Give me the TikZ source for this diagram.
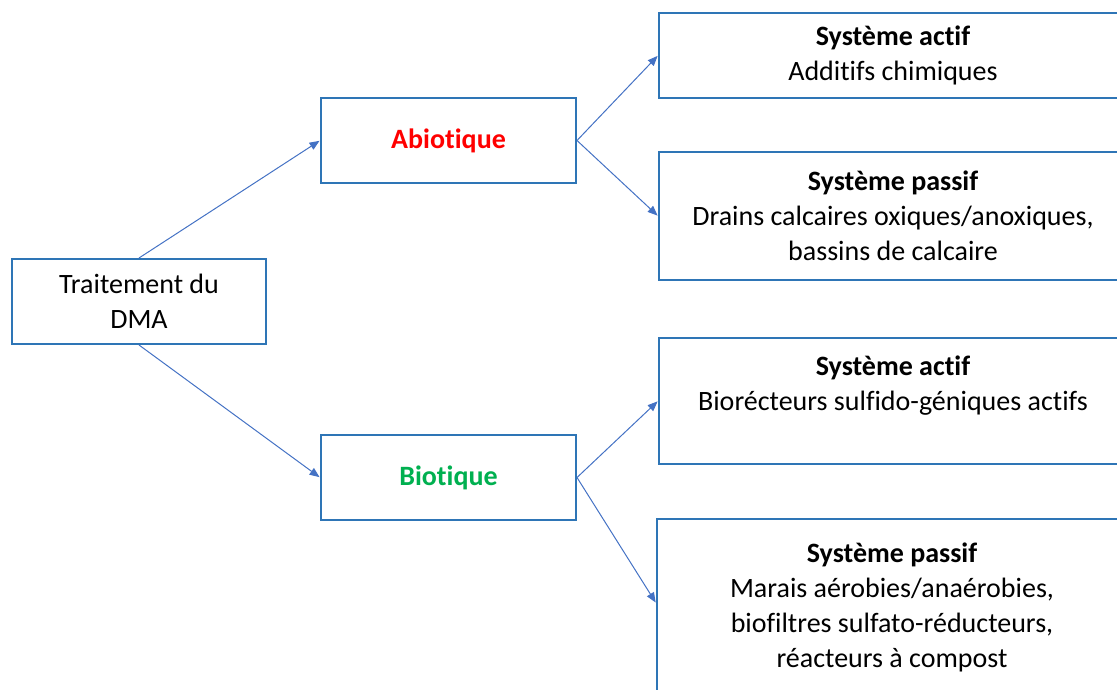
\documentclass[tikz,border=0pt]{standalone}
\usepackage{fontspec}
\setmainfont{Carlito}[Ligatures=NoCommon]
\usetikzlibrary{arrows.meta}
\definecolor{boxblue}{HTML}{2E75B6}
\definecolor{arrblue}{HTML}{4472C4}
\definecolor{abred}{HTML}{FF0000}
\definecolor{biogreen}{HTML}{00B050}
\tikzset{
  box/.style={draw=boxblue, line width=1.5pt, fill=white, rectangle, inner sep=0pt, align=center,
    font=\fontsize{21}{26.25}\selectfont, text=black},
  conn/.style={draw=arrblue, line width=0.75pt, -{Triangle[length=7.5pt,width=6pt]}, shorten >=0.4pt}
}
\begin{document}
\begin{tikzpicture}[x=0.75pt,y=-0.75pt]
\useasboundingbox (0,0) rectangle (1117,689);
\clip (0,0) rectangle (1117,689);
\node[box, minimum width=190.5pt, minimum height=63.75pt] (root) at (139,301.5) {Traitement du\\DMA};
\node[box, minimum width=191.25pt, minimum height=63.75pt, text=abred, font=\fontsize{21}{26.25}\selectfont\bfseries] (abio) at (448.5,140.5) {Abiotique};
\node[box, minimum width=191.25pt, minimum height=63.75pt, text=biogreen, font=\fontsize{21}{26.25}\selectfont\bfseries] (bio) at (448.5,477.5) {Biotique};
\node[box, minimum width=351pt, minimum height=63.75pt] (a1) at (893,55.5) {\textbf{Système actif}\\Additifs chimiques};
\node[box, minimum width=351pt, minimum height=96pt] (a2) at (893,216) {\textbf{Système passif}\\Drains calcaires oxiques/anoxiques,\\bassins de calcaire};
\node[box, minimum width=351pt, minimum height=94.5pt] (b1) at (893,401) {\textbf{Système actif}\\Biorécteurs sulfido-géniques actifs\\\mbox{}};
\node[box, minimum width=352.5pt, minimum height=132pt] (b2) at (892,607) {\textbf{Système passif}\\Marais aérobies/anaérobies,\\biofiltres sulfato-réducteurs,\\réacteurs à compost};
\draw[conn] (root.north) -- (abio.west);
\draw[conn] (root.south) -- (bio.west);
\draw[conn] (abio.east) -- (a1.west);
\draw[conn] (abio.east) -- (a2.west);
\draw[conn] (bio.east) -- (b1.west);
\draw[conn] (bio.east) -- ([yshift=3pt]b2.west);
\end{tikzpicture}
\end{document}
